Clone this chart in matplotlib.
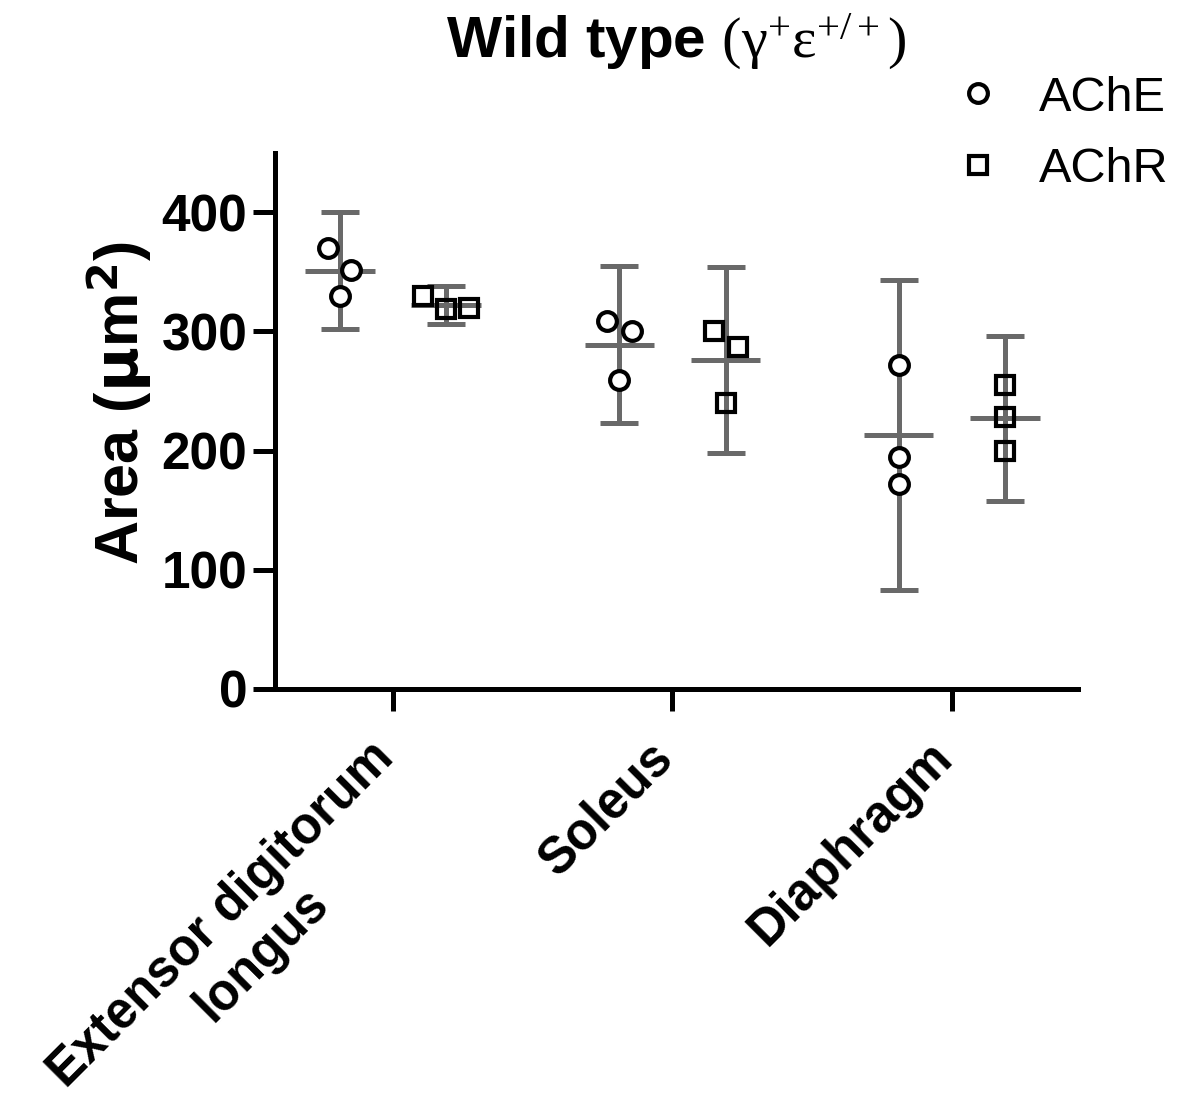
import matplotlib.pyplot as plt
from matplotlib.lines import Line2D
from matplotlib.transforms import ScaledTranslation
import numpy as np

plt.rcParams['font.family'] = 'Liberation Sans'
plt.rcParams['mathtext.fontset'] = 'custom'
plt.rcParams['mathtext.rm'] = 'Liberation Serif'
plt.rcParams['mathtext.it'] = 'Liberation Serif:italic'

## data
muscles = ["Extensor digitorum\nlongus", "Soleus", "Diaphragm"]
ache_pts = [[370, 352, 330], [309, 300, 259], [272, 195, 172]]
achr_pts = [[330, 319, 320], [300, 287, 240], [255, 228, 200]]
ache_mean = [351, 289, 213]
ache_ci = [49, 66, 130]
achr_mean = [322, 276, 227]
achr_ci = [16, 78, 69]
# horizontal scatter of overlapping points
ache_jit = [[-0.043, 0.041, 0], [-0.043, 0.044, 0], [0, 0, 0]]
achr_jit = [[-0.082, 0, 0.083], [-0.043, 0.044, 0], [0, 0, 0]]

fig = plt.figure(figsize=(11.79, 10.95), dpi=100)
ax = fig.add_axes([0.2333, 0.3708, 0.681, 0.4897])

gray = '#696969'
off = 0.19
x = np.arange(len(muscles))

def draw(xc, pts, jit, mean, ci, marker, face):
    ax.errorbar(xc, mean, yerr=ci, fmt='none', ecolor=gray, elinewidth=3.6,
                capsize=14, capthick=3.6, zorder=2)
    ax.hlines(mean, xc - 0.124, xc + 0.124, color=gray, lw=3.6, zorder=2)
    for i in range(len(xc)):
        ax.plot(xc[i] + np.array(jit[i]), pts[i], linestyle='none', marker=marker,
                ms=13.5 if marker == 'o' else 12.5, mew=3, mec='black', mfc=face, zorder=3)

draw(x - off, ache_pts, ache_jit, ache_mean, ache_ci, 'o', 'white')
draw(x + off, achr_pts, achr_jit, achr_mean, achr_ci, 's', 'none')

ax.set_xlim(-0.422, 2.451)
ax.set_ylim(0, 450)
ax.set_yticks([0, 100, 200, 300, 400])
ax.set_xticks(x)
ax.set_xticklabels([])
for lab in ax.get_yticklabels():
    lab.set_fontsize(37)
    lab.set_fontweight('bold')
ax.tick_params(axis='both', length=16, width=3.6, direction='out')
ax.tick_params(axis='y', pad=4)
for s in ['top', 'right']:
    ax.spines[s].set_visible(False)
for s in ['left', 'bottom']:
    ax.spines[s].set_linewidth(3.6)

# category labels, rotated 45 degrees
shift = ScaledTranslation(-0.24, -0.44, fig.dpi_scale_trans)
for xi, name in zip(x, muscles):
    ax.text(xi, 0, name, transform=ax.get_xaxis_transform() + shift,
            rotation=45, rotation_mode='anchor', ha='right', va='top',
            multialignment='center', fontsize=36.5, fontweight='bold')

ax.set_ylabel(r'Area ($\mathbf{\mu}$m$^\mathbf{2}$)', fontsize=44, fontweight='bold')
ax.yaxis.set_label_coords(-0.151, 0.532)

fig.text(0.573, 0.947, r'Wild type $\mathrm{(\gamma^{+}\varepsilon^{+/+})}$',
         ha='center', va='baseline', fontsize=42, fontweight='bold')

handles = [Line2D([], [], linestyle='none', marker='o', ms=13.5, mew=3, mec='black', mfc='white'),
           Line2D([], [], linestyle='none', marker='s', ms=12.5, mew=3, mec='black', mfc='none')]
fig.legend(handles, ['AChE', 'AChR'], loc='upper left', bbox_to_anchor=(0.772, 0.971),
           frameon=False, fontsize=35, handletextpad=0.75, labelspacing=0.55,
           handlelength=1.0)

fig.savefig('out.png', dpi=100)
